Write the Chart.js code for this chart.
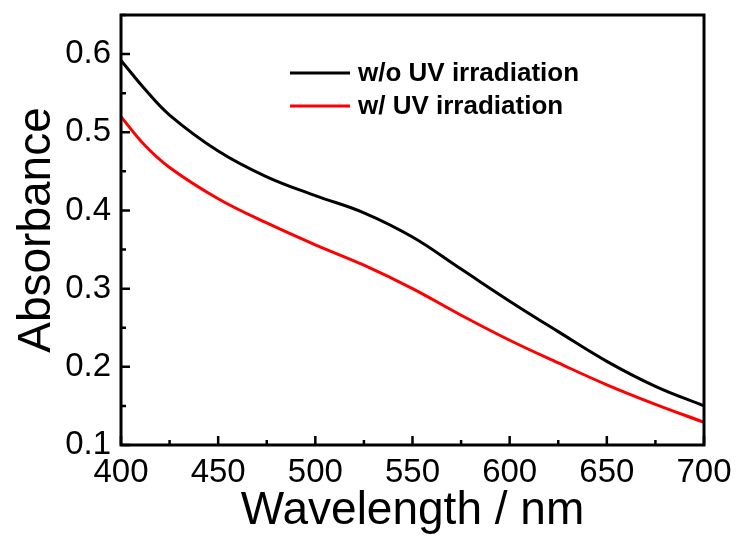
<!DOCTYPE html>
<html>
<head>
<meta charset="utf-8">
<script src="https://cdn.jsdelivr.net/npm/chart.js@4.4.0/dist/chart.umd.min.js"></script>
<style>
  html, body { margin: 0; padding: 0; background: #fff; }
  #wrap { width: 740px; height: 539px; }
</style>
</head>
<body>
<div id="wrap"><canvas id="chart" width="740" height="539"></canvas></div>
<script>
// Absorbance spectra, with and without UV irradiation
const wavelengths = [400, 412, 425, 450, 475, 500, 525, 550, 575, 600, 625, 650, 675, 700];
const absNoUV = [0.592, 0.556, 0.522, 0.476, 0.443, 0.419, 0.397, 0.366, 0.325, 0.284, 0.245, 0.207, 0.175, 0.150];
const absUV = [0.520, 0.484, 0.455, 0.415, 0.384, 0.356, 0.330, 0.300, 0.266, 0.234, 0.205, 0.177, 0.152, 0.129];
const seriesLabels = ['w/o UV irradiation', 'w/ UV irradiation'];
const seriesColors = ['#000000', '#ff0000'];

const AXIS_FONT = 'Arial, "Liberation Sans", sans-serif';

// frame + inward ticks, drawn on top of the plot
const framePlugin = {
  id: 'frame',
  afterDraw(chart) {
    const ctx = chart.ctx;
    const a = chart.chartArea;
    const xs = chart.scales.x, ys = chart.scales.y;
    ctx.save();
    ctx.strokeStyle = '#000';
    ctx.lineWidth = 3;
    ctx.strokeRect(a.left, a.top, a.right - a.left, a.bottom - a.top);
    ctx.lineWidth = 2.5;
    ctx.beginPath();
    for (let v = 400; v <= 700; v += 25) {
      const px = xs.getPixelForValue(v);
      const len = v % 50 === 0 ? 9 : 5;
      ctx.moveTo(px, a.bottom);
      ctx.lineTo(px, a.bottom - len);
    }
    for (let k = 2; k <= 13; k++) {
      const v = k * 0.05;
      const py = ys.getPixelForValue(v);
      const len = k % 2 === 0 ? 9 : 5;
      ctx.moveTo(a.left, py);
      ctx.lineTo(a.left + len, py);
    }
    ctx.stroke();
    ctx.restore();
  }
};

// legend drawn inside the plot
const legendPlugin = {
  id: 'innerLegend',
  afterDraw(chart) {
    const ctx = chart.ctx;
    ctx.save();
    ctx.font = 'bold 26px ' + AXIS_FONT;
    ctx.textBaseline = 'middle';
    chart.data.datasets.forEach((ds, i) => {
      const y = 73 + i * 33;
      ctx.strokeStyle = ds.borderColor;
      ctx.lineWidth = 3;
      ctx.beginPath();
      ctx.moveTo(290, y);
      ctx.lineTo(350, y);
      ctx.stroke();
      ctx.fillStyle = '#000';
      ctx.fillText(ds.label, 358, y + 1);
    });
    ctx.restore();
  }
};

new Chart(document.getElementById('chart'), {
  type: 'line',
  data: {
    labels: wavelengths,
    datasets: [
      { label: seriesLabels[0], data: wavelengths.map((w, i) => ({ x: w, y: absNoUV[i] })),
        borderColor: seriesColors[0], borderWidth: 3, pointRadius: 0, tension: 0.4, fill: false },
      { label: seriesLabels[1], data: wavelengths.map((w, i) => ({ x: w, y: absUV[i] })),
        borderColor: seriesColors[1], borderWidth: 3, pointRadius: 0, tension: 0.4, fill: false }
    ]
  },
  options: {
    responsive: false,
    animation: false,
    layout: { padding: { top: 15, right: 36, left: 10, bottom: 0 } },
    plugins: { legend: { display: false }, tooltip: { enabled: false } },
    scales: {
      x: {
        type: 'linear', min: 400, max: 700,
        grid: { display: false, drawTicks: false },
        border: { display: false },
        ticks: { stepSize: 50, padding: 8, color: '#000', font: { family: AXIS_FONT, size: 33 } },
        title: { display: true, text: 'Wavelength / nm', color: '#000', padding: { top: 0, bottom: 0 },
                 font: { family: AXIS_FONT, size: 46 } },
        afterFit(scale) { scale.height = 94; scale.paddingLeft = 0; scale.paddingRight = 0; }
      },
      y: {
        type: 'linear', min: 0.1, max: 0.65,
        grid: { display: false, drawTicks: false },
        border: { display: false },
        ticks: { stepSize: 0.1, includeBounds: false, padding: 10, color: '#000',
                 font: { family: AXIS_FONT, size: 33 },
                 callback: v => v.toFixed(1) },
        title: { display: true, text: 'Absorbance', color: '#000', padding: { top: 0, bottom: 0 },
                 font: { family: AXIS_FONT, size: 46 } },
        afterFit(scale) { scale.width = 111; scale.paddingTop = 0; scale.paddingBottom = 0; }
      }
    }
  },
  plugins: [framePlugin, legendPlugin]
});
</script>
</body>
</html>
